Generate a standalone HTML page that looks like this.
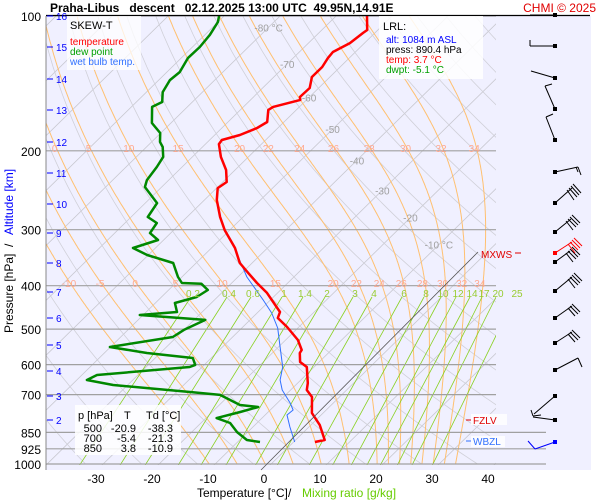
<!DOCTYPE html>
<html><head><meta charset="utf-8"><style>
html,body{margin:0;padding:0;background:#fff;}
svg{display:block;font-family:"Liberation Sans",sans-serif;}
</style></head><body>
<svg id="chart" width="600" height="500" viewBox="0 0 600 500" xmlns="http://www.w3.org/2000/svg">
<defs><clipPath id="plotclip"><rect x="46" y="16" width="450" height="449"/></clipPath></defs>
<rect x="46" y="16" width="545" height="454" fill="#f0f0ff"/>
<g id="grid" clip-path="url(#plotclip)"></g>
<g id="isobars"></g>
<g id="series"></g>
<g id="labels"></g>
<line x1="46" y1="16" x2="46" y2="470" stroke="#888" stroke-width="1"/>
<line x1="46" y1="15.5" x2="590" y2="15.5" stroke="#000" stroke-width="1.2"/>
<text x="50" y="12" font-size="12" font-weight="bold" xml:space="preserve">Praha-Libus   descent   02.12.2025 13:00 UTC  49.95N,14.91E</text>
<text x="596" y="12" font-size="12" fill="#e00000" text-anchor="end">CHMI © 2025</text>
<g>
<rect x="67" y="16" width="74" height="54" fill="#fff" opacity="0.75"/>
<text x="70" y="29" font-size="11" fill="#000">SKEW-T</text>
<text x="70" y="45" font-size="10" fill="#ff0000">temperature</text>
<text x="70" y="55" font-size="10" fill="#00a000">dew point</text>
<text x="70" y="65" font-size="10" fill="#3070ff">wet bulb temp.</text>
</g>
<g>
<rect x="379" y="16" width="104" height="63" fill="#fff" opacity="0.85"/>
<text x="383" y="30" font-size="11" fill="#000">LRL:</text>
<text x="386" y="43" font-size="10" fill="#0000ff">alt: 1084 m ASL</text>
<text x="386" y="53" font-size="10" fill="#000">press: 890.4 hPa</text>
<text x="386" y="63" font-size="10" fill="#ff0000">temp: 3.7 °C</text>
<text x="386" y="73" font-size="10" fill="#00a000">dwpt: -5.1 °C</text>
</g>
<g font-size="11">
<rect x="75" y="405" width="106" height="50" fill="#fff" opacity="0.85"/>
<text x="78" y="419">p [hPa]</text><text x="124" y="419">T</text><text x="146" y="419">Td [°C]</text>
<text x="102" y="432" text-anchor="end">500</text><text x="136" y="432" text-anchor="end">-20.9</text><text x="173" y="432" text-anchor="end">-38.3</text>
<text x="102" y="442" text-anchor="end">700</text><text x="136" y="442" text-anchor="end">-5.4</text><text x="173" y="442" text-anchor="end">-21.3</text>
<text x="102" y="452" text-anchor="end">850</text><text x="136" y="452" text-anchor="end">3.8</text><text x="173" y="452" text-anchor="end">-10.9</text>
</g>
<g id="barbs"></g>
<g>
<line x1="261" y1="470" x2="478" y2="252" stroke="#555" stroke-width="0.8"/>
<text x="481" y="258" font-size="10" fill="#e00000">MXWS</text>
<line x1="515" y1="253" x2="521" y2="253" stroke="#e00000"/>
<rect x="471" y="414" width="36" height="11" fill="#fff" opacity="0.8"/>
<line x1="466" y1="420" x2="471" y2="420" stroke="#e00000"/>
<text x="473" y="424" font-size="10" fill="#e00000">FZLV</text>
<rect x="471" y="436" width="34" height="11" fill="#fff" opacity="0.8"/>
<line x1="466" y1="441" x2="471" y2="441" stroke="#3070ff"/>
<text x="473" y="445" font-size="10" fill="#3070ff">WBZL</text>
</g>
<g font-size="12">
<text x="197" y="497" fill="#000">Temperature [°C]</text>
<text x="288" y="497" fill="#000">/</text>
<text x="302" y="497" fill="#66cc00">Mixing ratio [g/kg]</text>
</g>
<g transform="translate(13,333) rotate(-90)" font-size="12">
<text x="0" y="0" fill="#000">Pressure [hPa]</text>
<text x="86" y="0" fill="#000">/</text>
<text x="98" y="0" fill="#0000ff">Altitude [km]</text>
</g>
</svg>
<script>
// ---- data ----
const tempP = [100,107.5,109.1,115,120.4,124.2,130,136.9,144.8,151.7,154,159.6,162.1,172.5,177.9,184.4,189.2,193.2,206.4,220.7,234.8,242.2,257.5,281.1,300.6,329.6,356,374.6,394.5,415.2,457.9,472.2,494.6,528.9,556.7,565.4,592.2,607.6,659.7,683.8,708.9,769.5,818.7,884.1,893];
const tempT = [-64.5,-61.9,-62.1,-62.6,-64.0,-63.8,-63.2,-63.2,-61.6,-61.7,-61.1,-64.7,-65.0,-63.0,-63.7,-65.5,-67.8,-67.6,-64.9,-61.6,-59.3,-59.8,-57.8,-54.1,-50.9,-45.8,-42.2,-38.9,-35.5,-31.9,-26.1,-25.4,-22.1,-17.8,-15.3,-15.1,-13.4,-11.3,-8.2,-7.1,-4.9,-2.0,1.6,5.2,3.8];
const dewP = [100,103.2,110.2,117.3,124.2,133.5,139.1,147.9,155.6,159.6,173.4,182.5,191.1,196.1,206.4,217.4,232.5,240.9,261.6,281.1,289.9,305.2,316.3,329.6,341.7,356,382.5,394.5,396,409,424,437.3,457.9,465,477,502.1,520.6,548.2,565.4,580,601.1,607.6,633,649.5,666.3,690.7,701.2,738.6,746,765.6,789.7,810,848.6,884.1,893];
const dewT = [-90.9,-90.0,-89.1,-88.7,-88.8,-87.7,-88.0,-87.1,-85.4,-86.3,-83.4,-80.1,-78.5,-77.1,-75.2,-74.5,-73.9,-73.0,-67.9,-67.0,-64.3,-63.7,-61.0,-64.0,-60.2,-54.1,-50.7,-48.9,-45.3,-43.0,-43.7,-46.5,-44.5,-50.6,-38.0,-40.0,-40.7,-50.1,-42.4,-33.3,-31.6,-32.2,-47.3,-48.2,-42.6,-27.6,-21.7,-16.3,-12.7,-15.0,-18.1,-14.8,-11.9,-8.7,-6.0];
const wetP = [300.6,315,332.9,382.5,430.5,460.3,497.1,548.2,607.6,649.5,683.8,731.2,757.8,777.4,826.8,870.3,893];
const wetT = [-50.9,-48.2,-45.4,-38.4,-31.3,-27.4,-23.6,-19.7,-15.6,-13.7,-11.5,-7.7,-5.9,-6.1,-3.4,-1.0,0.2];
const pressureTicks = [100,200,300,400,500,600,700,850,925,1000];
const tempTicks = [-30,-20,-10,0,10,20,30,40];
const altTicks = [16,15,14,13,12,11,10,9,8,7,6,5,4,3,2];
const altTickY = [16,47,79,110,142,173,204,233,263,292,318,345,371,396,420];
const isothermLabels = [-80,-70,-60,-50,-40,-30,-20,-10];
const isothermLabelP = [106,128,152,179,210,245,282,324];
const moistValues = [-10,-5,0,5,10,15,20,22,24,26,28,30,32,34];
const mixValues = [0.2,0.4,0.6,1,1.4,2,3,4,6,8,10,12,14,17,20,25];
const mixLabelX = [193,229,253,284,305,327,355,374,404,426,443,458,472,484,498,517];

// ---- axis functions ----
const NS="http://www.w3.org/2000/svg";
function yP(p){return 464-194.6*Math.log(1000/p);}
function xT(t,p){return 264+5.6*t+1.02*(471-yP(p));}
function mk(tag,attrs,parent){const e=document.createElementNS(NS,tag);for(const k in attrs)e.setAttribute(k,attrs[k]);parent.appendChild(e);return e;}
const grid=document.getElementById('grid'), iso=document.getElementById('isobars'), ser=document.getElementById('series'), lab=document.getElementById('labels'), svg=document.getElementById('chart');
function pathFrom(ps,ts){return ps.map((p,i)=>(i?'L':'M')+xT(ts[i],p).toFixed(1)+','+yP(p).toFixed(1)).join('');}
const pr=[];for(let p=1000;p>=100;p-=10)pr.push(p);

for(let t=-140;t<=50;t+=10){
  const e=mk('line',{x1:xT(t,1050),y1:yP(1050),x2:xT(t,95),y2:yP(95),stroke:'#c8c8d0','stroke-width':0.8},grid);
  
  
}
for(let th=230;th<=500;th+=10){
  const d=pr.map((p,i)=>(i?'L':'M')+xT(th*Math.pow(p/1000,0.2857)-273.15,p).toFixed(1)+','+yP(p).toFixed(1)).join('');
  const e=mk('path',{d:d,fill:'none',stroke:'#d0d0d8','stroke-width':0.8},grid);
  
  
}
function moist(tw){const pts=[];let T=tw;for(let p=1000;p>=100;p-=2){pts.push([T,p]);const TK=T+273.15;const es=6.112*Math.exp(17.67*T/(T+243.5));const rs=0.622*es/(p-es);const g=(287*TK+2.5e6*rs)/(1005+2.5e6*2.5e6*rs*0.622/(287*TK*TK))/p;T-=g*2;}return pts;}
const moistCurves={};
moistValues.forEach(v=>{const pts=moist(v);moistCurves[v]=pts;
  const e=mk('path',{d:pts.map((q,i)=>(i?'L':'M')+(xT(q[0],q[1])-6).toFixed(1)+','+yP(q[1]).toFixed(1)).join(''),fill:'none',stroke:'#ffc070','stroke-width':1},grid);
  
  
});
mixValues.forEach((w,i)=>{const e0=w*1000/(622+w);const l=Math.log(e0/6.112);const td=243.5*l/(17.67-l);
  const e=mk('line',{x1:xT(td,1000),y1:yP(1000)+6,x2:mixLabelX[i]-2,y2:297,stroke:'#88d020','stroke-width':0.8},grid);
  
  
  const t=mk('text',{x:mixLabelX[i],y:297,'font-size':10,fill:'#99cc33','text-anchor':'middle'},lab);t.textContent=w;
  
  
});
[[200,152,[0,5,10,15,20,22,24,26,28,30,32,34]],[400,287,[-10,-5,0,5,10,15,20,22,24,26,28,30,32,34]]].forEach(r=>{
  r[2].forEach(v=>{const pts=moistCurves[v];let best=pts[0];pts.forEach(q=>{if(Math.abs(q[1]-r[0])<Math.abs(best[1]-r[0]))best=q;});
    const x=Math.max(54,xT(best[0],best[1])-9);
    const t=mk('text',{x:x,y:r[1],'font-size':10,fill:'#ffa890','text-anchor':'middle'},lab);t.textContent=v;
    
    
  });
});
isothermLabels.forEach((v,i)=>{const p=isothermLabelP[i];const t=mk('text',{x:xT(v,p),y:yP(p)+4,'font-size':10,fill:'#a0a0a0','text-anchor':'middle'},lab);t.textContent=v+((v==-80||v==-10)?' °C':'');
  
  
});
pressureTicks.forEach(p=>{const y=yP(p);const e=mk('line',{x1:46,y1:y,x2:p>=850?546:496,y2:y,stroke:'#a0a0a0','stroke-width':1.2},iso);
  
  
  const t=mk('text',{x:41,y:y+5,'font-size':12,'text-anchor':'end'},svg);t.textContent=p;
  
  
});
tempTicks.forEach(v=>{const t=mk('text',{x:264+5.6*v,y:483,'font-size':12,'text-anchor':'middle'},svg);t.textContent=v;
  
  
});
altTicks.forEach((v,i)=>{const y=altTickY[i];mk('line',{x1:47,y1:y,x2:53,y2:y,stroke:'#0000ff','stroke-width':1},svg);
  const t=mk('text',{x:56,y:y+4,'font-size':10,fill:'#0000ff'},svg);t.textContent=v;
  
  
});
let e=mk('path',{d:pathFrom(dewP,dewT),fill:'none',stroke:'#008800','stroke-width':2.5,'stroke-linejoin':'round'},ser);


e=mk('path',{d:pathFrom(wetP,wetT),fill:'none',stroke:'#3070ff','stroke-width':1,'stroke-linejoin':'round'},ser);


e=mk('path',{d:pathFrom(tempP,tempT),fill:'none',stroke:'#ff0000','stroke-width':2.5,'stroke-linejoin':'round'},ser);


const barbs=document.getElementById('barbs');
const barbDefs=[
 ['#000',[[555,15,530,15]]],
 ['#000',[[555,46,530,46],[530,46,530,40]]],
 ['#000',[[555,78,531,71]]],
 ['#000',[[555,109,545,86],[545,86,552,84]]],
 ['#000',[[555,140,546,117],[546,117,553,114]]],
 ['#000',[[555,172,578,167],[578,167,581,175],[576,167,578,172]]],
 ['#000',[[555,203,572,188],[567,190,574,200],[569,188,577,197],[571,186,579,195],[573,184,581,193]]],
 ['#000',[[555,232,571,219],[566,221,573,230],[568,219,576,227],[570,217,578,225],[572,215,580,223]]],
 ['#000',[[555,262,570,251],[566,253,573,262],[568,251,576,259],[570,249,578,257],[572,247,580,255]]],
 ['#ff0000',[[555,253,572,242],[568,244,575,253],[570,242,578,250],[572,240,580,248],[574,238,582,246]]],
 ['#000',[[555,291,572,277],[568,279,575,288],[570,277,578,285],[572,275,580,283],[574,273,582,281]]],
 ['#000',[[555,318,572,306],[568,308,575,316],[570,306,578,314],[572,304,580,312]]],
 ['#000',[[555,343,572,332],[568,334,575,342],[570,332,578,340],[572,330,580,338]]],
 ['#000',[[555,370,578,358],[578,358,582,367]]],
 ['#000',[[555,396,534,414],[531,410,533,416],[533,416,541,415]]],
 ['#000',[[555,420,533,417]]],
 ['#0000ff',[[555,442,535,449],[535,449,528,441]]]
];
barbDefs.forEach(b=>{const g=mk('g',{},barbs);
  
  
  b[1].forEach(s=>mk('line',{x1:s[0],y1:s[1],x2:s[2],y2:s[3],stroke:b[0],'stroke-width':1},g));
  const s=b[1][0];mk('rect',{x:s[0]-2,y:s[1]-2,width:4,height:4,fill:b[0]},g);
});
</script>
</body></html>
